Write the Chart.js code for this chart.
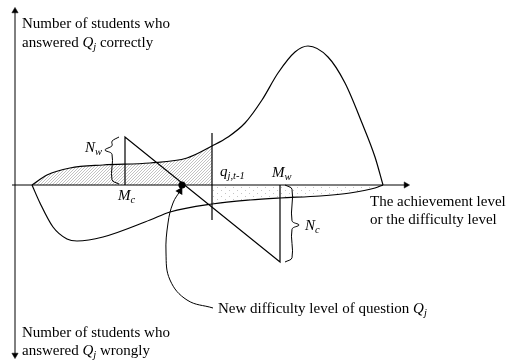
<!DOCTYPE html>
<html>
<head>
<meta charset="utf-8">
<script src="https://cdn.jsdelivr.net/npm/chart.js@4/dist/chart.umd.min.js"></script>
<style>
  html, body { margin: 0; padding: 0; background: #fff; }
  #wrap { width: 513px; height: 361px; }
</style>
</head>
<body>
<div id="wrap"><canvas id="diagram"></canvas></div>
<script>
// students who answered correctly (above the axis)
const correctX = [17, 32, 55, 88, 135, 172, 197, 213, 230, 247, 263, 280, 293, 313, 330, 347, 360, 368];
const correctY = [0, 10, 17, 20, 22, 27, 39, 48, 62, 85, 112, 133, 139, 128, 102, 62, 28, 0];

// students who answered wrongly (below the axis)
const wrongX = [17, 25, 38, 52, 62, 88, 135, 155, 197, 235, 265, 305, 335, 360, 368];
const wrongY = [0, -18, -42, -54, -56, -52, -35, -27, -19, -15, -13, -11, -8, -3, 0];

// key levels on the horizontal axis
const mcLevel = 110;      // M_c
const mwLevel = 265;      // M_w
const oldLevel = 197;     // q_{j,t-1}
const newLevel = 167;     // new difficulty level
const nwHeight = 48;      // N_w
const ncHeight = -77;     // N_c
const oldLineTop = 52;
const oldLineBottom = -35;

// callout from the label to the new level
const calloutX = [198, 172, 155, 151, 153, 158, 165];
const calloutY = [-123, -115, -95, -68, -38, -18, -6];

const pts = (xs, ys) => xs.map((x, i) => ({ x: x, y: ys[i] }));

function hatchPattern() {
  const c = document.createElement("canvas");
  c.width = 3;
  c.height = 3;
  const g = c.getContext("2d");
  g.strokeStyle = "#a8a8a8";
  g.lineWidth = 0.7;
  g.beginPath();
  g.moveTo(0, 3); g.lineTo(3, 0);
  g.moveTo(-1, 1); g.lineTo(1, -1);
  g.moveTo(2, 4); g.lineTo(4, 2);
  g.stroke();
  return g.createPattern(c, "repeat");
}

function dotPattern() {
  const c = document.createElement("canvas");
  c.width = 8;
  c.height = 6;
  const g = c.getContext("2d");
  g.fillStyle = "#c4c4c4";
  g.fillRect(1, 1, 1, 1);
  g.fillRect(5, 4, 1, 1);
  return g.createPattern(c, "repeat");
}

// curly brace as a small polyline, tip on the side given by dir
function brace(x, top, bottom, tip, dir, w) {
  return [
    { x: x - dir * w, y: top },
    { x: x, y: top - w * 0.6 },
    { x: x, y: tip + w * 0.6 },
    { x: x + dir * w, y: tip },
    { x: x, y: tip - w * 0.6 },
    { x: x, y: bottom + w * 0.6 },
    { x: x - dir * w, y: bottom },
  ];
}

const textSize = 15;
const labels = [
  { x: 7, y: 157, parts: [["Number of students who", "n"]] },
  { x: 7, y: 138, parts: [["answered ", "n"], ["Q", "i"], ["j", "s"], [" correctly", "n"]] },
  { x: 355, y: -21, parts: [["The achievement level", "n"]] },
  { x: 355, y: -39, parts: [["or the difficulty level", "n"]] },
  { x: 203, y: -128, parts: [["New difficulty level of question ", "n"], ["Q", "i"], ["j", "s"]] },
  { x: 7, y: -152, parts: [["Number of students who", "n"]] },
  { x: 7, y: -170, parts: [["answered ", "n"], ["Q", "i"], ["j", "s"], [" wrongly", "n"]] },
  { x: 70, y: 33, parts: [["N", "i"], ["w", "s"]] },
  { x: 103, y: -15, parts: [["M", "i"], ["c", "s"]] },
  { x: 205, y: 9, parts: [["q", "i"], ["j,t-1", "s"]] },
  { x: 257, y: 8, parts: [["M", "i"], ["w", "s"]] },
  { x: 290, y: -45, parts: [["N", "i"], ["c", "s"]] },
];

const textPlugin = {
  id: "textPlugin",
  afterDatasetsDraw(chart) {
    const ctx = chart.ctx;
    const sx = chart.scales.x;
    const sy = chart.scales.y;
    ctx.save();
    ctx.fillStyle = "#000";
    ctx.textBaseline = "alphabetic";
    labels.forEach((t) => {
      let px = sx.getPixelForValue(t.x);
      const py = sy.getPixelForValue(t.y);
      t.parts.forEach(([s, style]) => {
        const sub = style === "s";
        ctx.font = (style === "n" ? "" : "italic ") + (sub ? 10.5 : textSize) + 'px "Liberation Serif"';
        ctx.fillText(s, px, py + (sub ? 3 : 0));
        px += ctx.measureText(s).width;
      });
    });
    ctx.restore();
  },
};

const line = (data, extra) =>
  Object.assign(
    {
      data: data,
      showLine: true,
      borderColor: "#000",
      borderWidth: 1.2,
      pointRadius: 0,
      fill: false,
      tension: 0,
      order: 1,
    },
    extra || {}
  );

// arrow direction at the end of the callout
const cn = calloutX.length;
const calloutAngle =
  (Math.atan2(calloutX[cn - 1] - calloutX[cn - 2], calloutY[cn - 1] - calloutY[cn - 2]) * 180) / Math.PI;

new Chart(document.getElementById("diagram"), {
  type: "scatter",
  data: {
    datasets: [
      // shaded areas
      line(pts(correctX, correctY).filter((p) => p.x <= oldLevel), {
        borderWidth: 0,
        fill: "origin",
        backgroundColor: hatchPattern(),
        cubicInterpolationMode: "monotone",
        order: 10,
      }),
      line(pts(wrongX, wrongY).filter((p) => p.x >= oldLevel), {
        borderWidth: 0,
        fill: "origin",
        backgroundColor: dotPattern(),
        cubicInterpolationMode: "monotone",
        order: 10,
      }),
      // axes
      line([{ x: 0, y: -170 }, { x: 0, y: 174 }], { borderWidth: 1 }),
      line([{ x: -3, y: 0 }, { x: 391, y: 0 }], { borderWidth: 1 }),
      line([{ x: 0, y: 174 }, { x: 0, y: -170 }, { x: 391, y: 0 }], {
        showLine: false,
        pointStyle: "triangle",
        pointRadius: 3.6,
        pointRotation: [0, 180, 90],
        pointBackgroundColor: "#000",
        pointBorderColor: "#000",
        pointBorderWidth: 0.5,
      }),
      // curves
      line(pts(correctX, correctY), { cubicInterpolationMode: "monotone" }),
      line(pts(wrongX, wrongY), { cubicInterpolationMode: "monotone" }),
      // triangle between M_c and M_w
      line([
        { x: mcLevel, y: 0 },
        { x: mcLevel, y: nwHeight },
        { x: mwLevel, y: ncHeight },
        { x: mwLevel, y: 0 },
      ]),
      // previous level q_{j,t-1}
      line([{ x: oldLevel, y: oldLineTop }, { x: oldLevel, y: oldLineBottom }]),
      // braces
      line(brace(mcLevel - 13, nwHeight, 1, 35, -1, 7), { borderWidth: 1, tension: 0.35 }),
      line(brace(mwLevel + 12, 0, ncHeight, -40, 1, 7), { borderWidth: 1, tension: 0.35 }),
      // callout
      line(pts(calloutX, calloutY), { borderWidth: 1, tension: 0.4 }),
      line([{ x: calloutX[cn - 1], y: calloutY[cn - 1] }], {
        showLine: false,
        pointStyle: "triangle",
        pointRadius: 3.4,
        pointRotation: calloutAngle,
        pointBackgroundColor: "#000",
        pointBorderColor: "#000",
      }),
      // new level dot
      line([{ x: newLevel, y: 0 }], {
        showLine: false,
        pointRadius: 3,
        pointBackgroundColor: "#000",
        pointBorderColor: "#000",
      }),
    ],
  },
  options: {
    responsive: true,
    maintainAspectRatio: false,
    animation: false,
    events: [],
    layout: { padding: 0, autoPadding: false },
    plugins: {
      legend: { display: false },
      tooltip: { enabled: false },
    },
    scales: {
      x: { type: "linear", min: -15, max: 498, display: false },
      y: { type: "linear", min: -176, max: 185, display: false },
    },
  },
  plugins: [textPlugin],
});
</script>
</body>
</html>
